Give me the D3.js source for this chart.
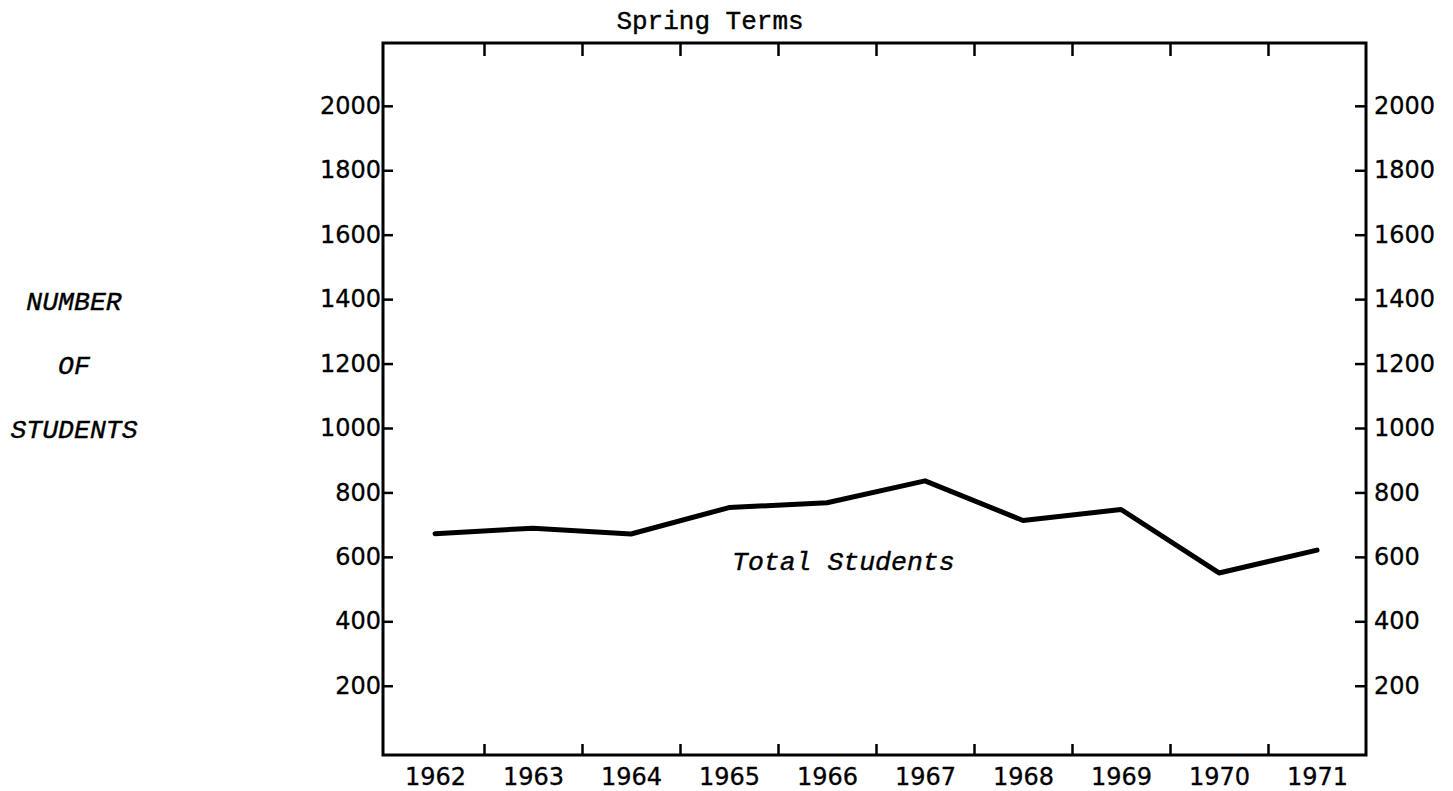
<!DOCTYPE html>
<html>
<head>
<meta charset="utf-8">
<script src="https://cdn.jsdelivr.net/npm/d3@7"></script>
<style>
  html, body { margin: 0; padding: 0; background: #fff; }
  #vis { width: 1453px; height: 791px; }
</style>
</head>
<body>
<div id="vis"></div>
<script>
// Spring terms enrolment: one thick line across ten years, framed box with axes both sides.

const YEARS    = [1962, 1963, 1964, 1965, 1966, 1967, 1968, 1969, 1970, 1971];
const STUDENTS = [672, 689, 671, 753, 768, 836, 713, 747, 550, 621];
const Y_TICKS  = [200, 400, 600, 800, 1000, 1200, 1400, 1600, 1800, 2000];
const Y_LABEL  = ["NUMBER", "OF", "STUDENTS"];
const TITLE    = "Spring Terms";
const SERIES   = "Total Students";

const W = 1453, H = 791;
const box = { left: 383, right: 1366, top: 43, bottom: 755 };

const MONO = "'Liberation Mono', 'DejaVu Sans Mono', monospace";
const SANS = "'DejaVu Sans', sans-serif";

// ── Scales ────────────────────────────────────────────────────────────────

// years sit in the middle of each column, ticks fall on the column edges
const x = d3.scaleLinear()
  .domain([YEARS[0] - 0.5, YEARS[YEARS.length - 1] + 0.5])
  .range([box.left + 3, box.right]);

const y = d3.scaleLinear()
  .domain([-15, 2195])
  .range([box.bottom, box.top]);

const edges = YEARS.slice(1).map(d => d - 0.5);

const svg = d3.select("#vis").append("svg")
  .attr("width", W)
  .attr("height", H);

// ── Axes ──────────────────────────────────────────────────────────────────

function styleAxis(g) {
  g.select(".domain").remove();
  g.selectAll(".tick line").attr("stroke", "#000").attr("stroke-width", 2.5);
  g.selectAll("text")
    .attr("fill", "#000")
    .attr("stroke", "#000")
    .attr("stroke-width", 0.3)
    .style("font-family", SANS)
    .style("font-size", "24px");
}

svg.append("g")
  .attr("transform", `translate(${box.left},0)`)
  .call(d3.axisLeft(y).tickValues(Y_TICKS).tickSize(-10).tickPadding(2).tickFormat(d3.format("d")))
  .call(styleAxis);

svg.append("g")
  .attr("transform", `translate(${box.right},0)`)
  .call(d3.axisRight(y).tickValues(Y_TICKS).tickSize(-11).tickPadding(8).tickFormat(d3.format("d")))
  .call(styleAxis);

// bottom: year labels centred in columns, short ticks on column edges
svg.append("g")
  .attr("transform", `translate(0,${box.bottom})`)
  .call(d3.axisBottom(x).tickValues(YEARS).tickSize(0).tickPadding(13).tickFormat(d3.format("d")))
  .call(styleAxis);

svg.append("g")
  .attr("transform", `translate(0,${box.bottom})`)
  .call(d3.axisBottom(x).tickValues(edges).tickSize(-11).tickFormat(""))
  .call(styleAxis);

svg.append("g")
  .attr("transform", `translate(0,${box.top})`)
  .call(d3.axisTop(x).tickValues(edges).tickSize(-13).tickFormat(""))
  .call(styleAxis);

// frame
svg.append("rect")
  .attr("x", box.left)
  .attr("y", box.top)
  .attr("width", box.right - box.left)
  .attr("height", box.bottom - box.top)
  .attr("fill", "none")
  .attr("stroke", "#000")
  .attr("stroke-width", 3);

// ── Series ────────────────────────────────────────────────────────────────

const line = d3.line()
  .x((d, i) => x(YEARS[i]))
  .y(d => y(d));

svg.append("path")
  .datum(STUDENTS)
  .attr("d", line)
  .attr("fill", "none")
  .attr("stroke", "#000")
  .attr("stroke-width", 5)
  .attr("stroke-linejoin", "round")
  .attr("stroke-linecap", "round");

// ── Text ──────────────────────────────────────────────────────────────────

const textInk = sel => sel
  .attr("fill", "#000")
  .attr("stroke", "#000")
  .attr("stroke-width", 0.4);

svg.append("text")
  .attr("x", 710)
  .attr("y", 29)
  .attr("text-anchor", "middle")
  .style("font-family", MONO)
  .style("font-size", "26px")
  .call(textInk)
  .text(TITLE);

svg.append("text")
  .attr("x", 732)
  .attr("y", 570)
  .style("font-family", MONO)
  .style("font-style", "italic")
  .style("font-size", "26.5px")
  .call(textInk)
  .text(SERIES);

svg.append("g")
  .selectAll("text")
  .data(Y_LABEL)
  .join("text")
    .attr("x", 74)
    .attr("y", (d, i) => 310 + i * 64)
    .attr("text-anchor", "middle")
    .style("font-family", MONO)
    .style("font-style", "italic")
    .style("font-size", "26.5px")
    .call(textInk)
    .text(d => d);
</script>
</body>
</html>
